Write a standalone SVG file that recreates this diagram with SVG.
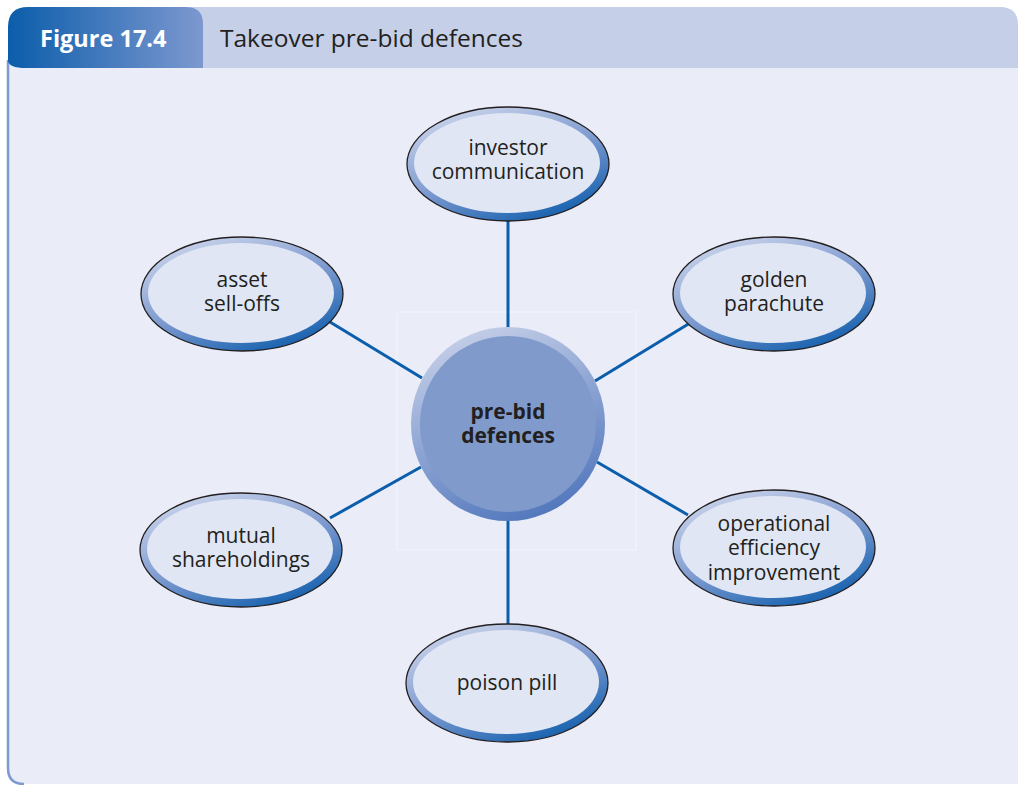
<svg xmlns="http://www.w3.org/2000/svg" width="1018" height="785" viewBox="0 0 1018 785">
<defs>
<linearGradient id="tabg" x1="0" y1="0" x2="1" y2="0">
<stop offset="0" stop-color="#0b5dab"/>
<stop offset="1" stop-color="#7d98cf"/>
</linearGradient>
<linearGradient id="ring" x1="0.2" y1="0" x2="0.8" y2="1">
<stop offset="0" stop-color="#cdd6ec"/>
<stop offset="0.5" stop-color="#7f9bd0"/>
<stop offset="1" stop-color="#0b5bab"/>
</linearGradient>
<linearGradient id="cring" x1="0.3" y1="0" x2="0.7" y2="1">
<stop offset="0" stop-color="#c5cfe8"/>
<stop offset="1" stop-color="#4f75bb"/>
</linearGradient>
</defs>
<style>
.lbl{font-family:"Open Sans","Noto Sans","Liberation Sans",sans-serif;font-size:21px;fill:#231f20;text-anchor:middle}
.ctr{font-family:"Open Sans","Noto Sans","Liberation Sans",sans-serif;font-size:21px;font-weight:bold;fill:#231f20;text-anchor:middle}
.out{fill:url(#ring);stroke:#231f20;stroke-width:1.3}
.in{fill:#e0e6f4}
.con{stroke:#0a5eab;stroke-width:3;fill:none}
</style>
<rect width="1018" height="785" fill="#ffffff"/>
<g id="frame">
<path d="M8 60 L8 768 Q8 784 24 784 L1018 784 L1018 60 Z" fill="#eaecf8"/>
<path d="M8 60 L8 768 Q8 784 24 784" fill="none" stroke="#7f9ad0" stroke-width="2.5"/>
<path d="M190 7 L1000 7 Q1018 7 1018 25 L1018 68 L190 68 Z" fill="#c5cfe8"/>
<path d="M28 7 L186 7 Q203 7 203 24 L203 68 L26 68 Q8 68 8 60 L8 27 Q8 7 28 7 Z" fill="url(#tabg)"/>
<text x="40" y="47" font-family="'Open Sans','Noto Sans','Liberation Sans',sans-serif" font-size="23.5" font-weight="bold" fill="#ffffff">Figure 17.4</text>
<text x="220" y="47" font-family="'Open Sans','Noto Sans','Liberation Sans',sans-serif" font-size="24.5" fill="#231f20">Takeover pre-bid defences</text>
</g>
<rect x="397" y="312" width="239" height="238" fill="none" stroke="#f3f5fc" stroke-width="1"/>
<g id="connectors">
<line class="con" x1="508" y1="221" x2="508" y2="328"/>
<line class="con" x1="508" y1="520" x2="508" y2="624"/>
<line class="con" x1="330" y1="322" x2="422" y2="378"/>
<line class="con" x1="690" y1="323" x2="595" y2="381"/>
<line class="con" x1="330" y1="518" x2="421" y2="467"/>
<line class="con" x1="688" y1="515" x2="597" y2="462"/>
</g>
<g id="center">
<circle cx="508" cy="424" r="97" fill="url(#cring)"/>
<circle cx="508" cy="424" r="88" fill="#7f9acb"/>
<text class="ctr"><tspan x="508" y="419">pre-bid</tspan><tspan x="508" y="443">defences</tspan></text>
</g>
<g id="investor">
<ellipse class="out" cx="508" cy="164" rx="101" ry="57"/>
<ellipse class="in" cx="507" cy="163" rx="93" ry="50"/>
<text class="lbl"><tspan x="508" y="155">investor</tspan><tspan x="508" y="179">communication</tspan></text>
</g>
<g id="asset">
<ellipse class="out" cx="242" cy="294" rx="101" ry="57"/>
<ellipse class="in" cx="241" cy="293" rx="93" ry="50"/>
<text class="lbl"><tspan x="242" y="287">asset</tspan><tspan x="242" y="311">sell-offs</tspan></text>
</g>
<g id="golden">
<ellipse class="out" cx="774" cy="294" rx="101" ry="57"/>
<ellipse class="in" cx="773" cy="293" rx="93" ry="50"/>
<text class="lbl"><tspan x="774" y="287">golden</tspan><tspan x="774" y="311">parachute</tspan></text>
</g>
<g id="mutual">
<ellipse class="out" cx="241" cy="550" rx="101" ry="57"/>
<ellipse class="in" cx="240" cy="549" rx="93" ry="50"/>
<text class="lbl"><tspan x="241" y="543">mutual</tspan><tspan x="241" y="567">shareholdings</tspan></text>
</g>
<g id="operational">
<ellipse class="out" cx="774" cy="548" rx="101" ry="58"/>
<ellipse class="in" cx="773" cy="547" rx="93" ry="51"/>
<text class="lbl"><tspan x="774" y="531">operational</tspan><tspan x="774" y="555">efficiency</tspan><tspan x="774" y="580">improvement</tspan></text>
</g>
<g id="poison">
<ellipse class="out" cx="507" cy="683" rx="101" ry="59"/>
<ellipse class="in" cx="506" cy="682" rx="93" ry="52"/>
<text class="lbl" x="507" y="690">poison pill</text>
</g>
</svg>
